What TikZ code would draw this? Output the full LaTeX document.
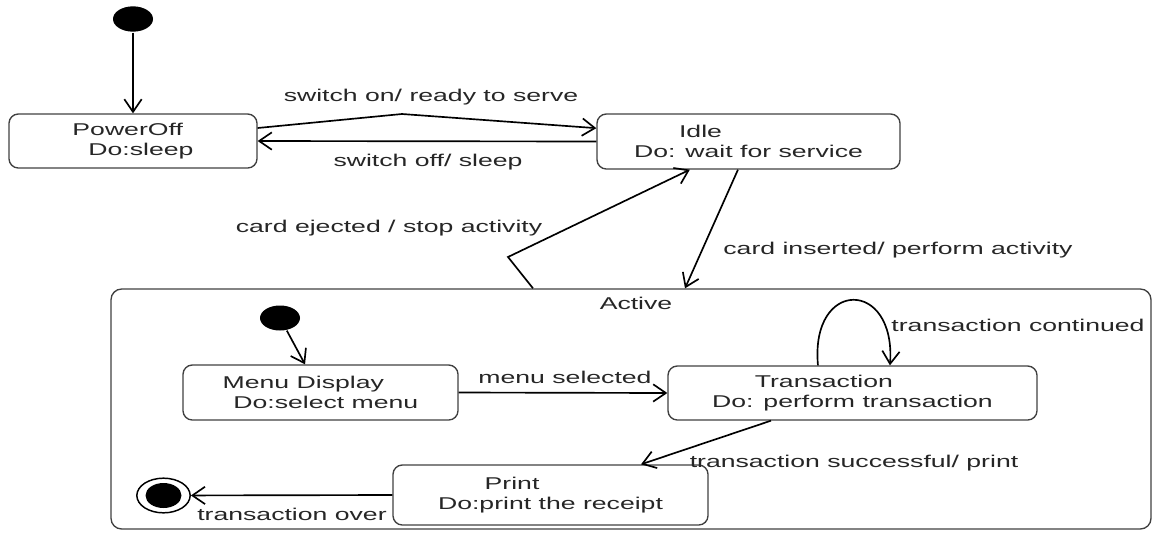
\documentclass[tikz,border=0pt]{standalone}
\usepackage{fontspec}
\setmainfont[FakeStretch=1.56]{Liberation Sans}
\usetikzlibrary{arrows.meta,shapes.geometric}

\begin{document}
\begin{tikzpicture}[x=0.75pt,y=-0.75pt,>={Straight Barb[length=9.5pt,width=13pt]},
  font=\fontsize{12.8}{15}\selectfont,line width=1.25pt,
  state/.style={draw=black!75,line width=1pt,rounded corners=7pt,align=left,inner sep=0pt,text=black!85},
  blob/.style={ellipse,fill=black,inner sep=0pt,minimum width=30pt,minimum height=19pt},
  lbl/.style={text=black!85,inner sep=1pt}]
  \useasboundingbox (0,0) rectangle (1154,533);
  % outer states
  \node[blob] (init) at (133,19) {};
  \node[state,minimum width=186pt,minimum height=40.5pt] (poweroff) at (133,141)
    {PowerOff\\\hspace*{12pt}Do:sleep};
  \node[state,minimum width=227.25pt,minimum height=41.25pt] (idle) at (748.5,141.5)
    {\hspace*{33.75pt}Idle\\Do: wait for service};
  \node[state,minimum width=780pt,minimum height=180pt,rounded corners=8pt] (active) at (631,409) {};
  \node[lbl] at (636,303) {Active};
  % inside Active
  \node[blob,minimum height=18.75pt] (init2) at (280,318) {};
  \node[state,minimum width=206.25pt,minimum height=41.25pt] (menu) at (320.5,392.5)
    {Menu Display\\\hspace*{8pt}Do:select menu};
  \node[state,minimum width=276.75pt,minimum height=40.5pt] (trans) at (852.5,393)
    {\hspace*{32pt}Transaction\\Do: perform transaction};
  \node[state,minimum width=236.25pt,minimum height=45pt] (print) at (550.5,495)
    {\hspace*{35pt}Print\\Do:print the receipt};
  \node[ellipse,draw,line width=1.1pt,inner sep=0pt,minimum width=40pt,minimum height=26pt]
    (final) at (163.5,495.5) {};
  \node[blob,minimum width=27pt,minimum height=18.75pt] at (final) {};
  % transitions
  \coordinate (bendon) at (402,114);
  \coordinate (bendej) at (508,257);
  \draw[->] (init) -- (poweroff.north);
  \draw[->] ([yshift=9.75pt]poweroff.east) -- (bendon) -- ([yshift=10pt]idle.west);
  \node[lbl] at (431,97) {switch on/ ready to serve};
  \draw[->] (idle.west) -- (poweroff.east);
  \node[lbl] at (428,162) {switch off/ sleep};
  \draw[->] ([xshift=-73.5pt]active.north) -- (bendej) -- ([xshift=-44pt]idle.south);
  \node[lbl] at (389,228) {card ejected / stop activity};
  \draw[->] ([xshift=-7.9pt]idle.south) -- ([xshift=40.5pt]active.north);
  \node[lbl] at (898,250) {card inserted/ perform activity};
  \draw[->] (init2) -- ([xshift=-11.6pt]menu.north);
  \draw[->] (menu.east) -- (trans.west);
  \node[lbl] at (565,377) {menu selected};
  \draw[->] ([xshift=-25.9pt]trans.north) .. controls +(-8,-87) and +(6,-87) .. ([xshift=28.1pt]trans.north);
  \node[lbl] at (1018,325) {transaction continued};
  \draw[->] ([xshift=-61.1pt]trans.south) -- ([xshift=67.9pt]print.north);
  \node[lbl] at (854,463) {transaction successful/ print};
  \draw[->] (print.west) -- (final);
  \node[lbl] at (292,514) {transaction over};
\end{tikzpicture}
\end{document}
